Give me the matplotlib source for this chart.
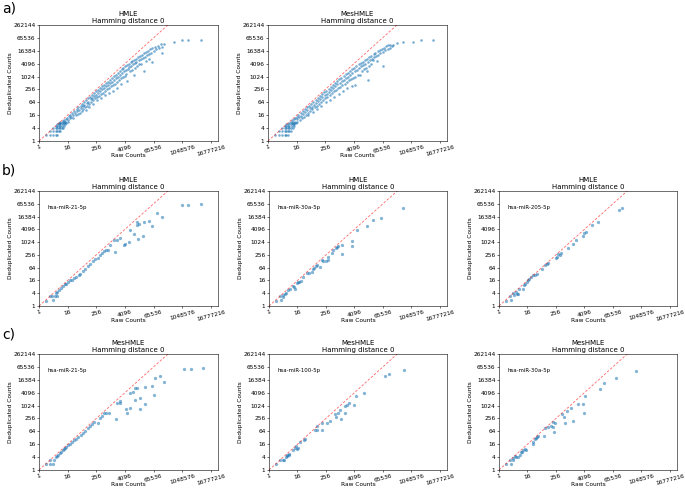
import numpy as np
import matplotlib
matplotlib.use("Agg")
import matplotlib.pyplot as plt
from matplotlib.ticker import NullLocator

# ---------------- data (log2 of raw counts, log2 of deduplicated counts) ----------------
a1_log2 = [
    (1.0,1.0),(1.58,1.0),(2.0,1.0),(2.32,1.0),(2.58,1.0),
    (1.58,1.58),(2.0,1.58),(2.32,1.58),(2.58,1.58),(2.81,1.58),(3.0,1.58),
    (2.0,2.0),(2.32,2.0),(2.58,2.0),(2.81,2.0),(3.0,2.0),(3.17,2.0),(3.32,2.0),
    (2.32,2.32),(2.58,2.32),(2.81,2.32),(3.0,2.32),(3.17,2.32),(3.46,2.32),
    (2.58,2.58),(2.81,2.58),(3.0,2.58),(3.32,2.58),(3.58,2.58),
    (2.81,2.81),(3.0,2.81),(3.17,2.81),(3.46,2.81),(3.81,2.81),
    (3.0,3.0),(3.32,3.0),(3.58,3.0),(3.7,3.0),(4.0,3.0),
    (3.3,3.17),(3.55,3.32),(3.75,3.46),(3.9,3.58),(4.1,3.3),(4.2,3.9),(4.35,4.1),(4.3,3.6),
    (4.5,3.8),(4.6,4.3),(4.7,4.0),(4.8,3.6),(4.95,4.7),(5.0,4.3),(5.1,4.0),(5.25,4.9),
    (5.3,4.6),(5.4,4.2),(5.5,5.2),(5.6,4.8),(5.7,4.4),(5.8,5.5),(5.85,5.1),(5.95,4.7),
    (6.05,5.8),(6.1,5.4),(6.2,5.0),(6.3,6.0),(6.35,5.6),(6.45,5.2),(6.5,4.8),(6.6,6.3),
    (6.65,5.9),(6.75,5.5),(6.85,6.6),(6.9,6.1),(7.0,5.7),(7.05,5.3),(7.15,6.9),(7.2,6.5),
    (7.3,6.1),(7.4,7.1),(7.45,6.7),(7.55,6.3),(7.6,5.8),(7.7,7.4),(7.75,7.0),(7.85,6.6),
    (7.95,7.7),(8.0,7.2),(8.1,6.8),(8.15,6.3),(8.25,7.9),(8.3,7.5),(8.4,7.0),(8.5,8.2),
    (8.55,7.7),(8.65,7.3),(8.7,6.7),(8.8,8.5),(8.85,8.0),(8.95,7.5),(9.05,8.7),(9.1,8.2),
    (9.2,7.8),(9.25,7.1),(9.35,9.0),(9.4,8.5),(9.5,8.0),(9.6,9.2),(9.65,8.7),(9.75,8.2),
    (9.8,7.4),(9.9,9.5),(9.95,9.0),(10.05,8.5),(10.15,9.8),(10.2,9.2),(10.3,8.7),(10.35,7.8),
    (10.45,10.1),(10.5,9.5),(10.6,8.9),(10.7,10.3),(10.75,9.8),(10.85,9.2),(10.9,8.3),
    (11.0,10.6),(11.05,10.0),(11.15,9.4),(11.25,10.8),(11.3,10.3),(11.4,9.7),(11.5,8.8),
    (11.55,11.1),(11.6,10.5),(11.7,9.9),(11.8,11.3),(11.85,10.8),(11.95,10.1),(12.05,11.6),
    (12.1,11.0),(12.2,10.4),(12.3,9.3),(12.35,11.8),(12.4,11.2),(12.55,12.0),(12.6,11.5),
    (12.7,10.8),(12.8,12.2),(12.85,11.7),(12.95,11.0),(13.05,12.4),(13.1,11.9),(13.2,10.3),
    (13.3,12.6),(13.35,12.1),(13.45,11.4),(13.55,12.8),(13.6,12.3),(13.7,11.7),(13.8,13.0),
    (13.9,12.5),(14.0,11.9),(14.1,13.2),(14.2,12.7),(14.3,12.0),(14.4,13.4),(14.5,12.9),
    (14.6,10.8),(14.7,13.6),(14.8,13.1),(14.9,12.4),(15.0,13.8),(15.1,13.3),(15.2,14.0),
    (15.3,13.5),(15.4,12.8),(15.5,14.2),(15.6,13.7),(15.8,12.3),(15.85,14.4),(16.0,13.9),
    (16.2,14.6),(16.4,14.2),(16.6,14.8),(16.8,14.4),(17.0,15.0),(17.2,14.6),(17.4,15.1),
    (17.2,13.6),(18.8,15.3),(20.0,15.6),(20.8,15.6),(22.6,15.7),
]

a2_log2 = [
    (1.0,1.0),(1.58,1.0),(2.0,1.0),(2.32,1.0),(2.58,1.0),(2.81,1.0),
    (1.58,1.58),(2.0,1.58),(2.32,1.58),(2.58,1.58),(2.81,1.58),(3.0,1.58),(3.17,1.58),
    (2.0,2.0),(2.32,2.0),(2.58,2.0),(2.81,2.0),(3.0,2.0),(3.17,2.0),(3.46,2.0),
    (2.32,2.32),(2.58,2.32),(2.81,2.32),(3.0,2.32),(3.32,2.32),(3.58,2.32),
    (2.58,2.58),(2.81,2.58),(3.17,2.58),(3.46,2.58),(3.7,2.58),
    (3.0,2.81),(3.32,2.81),(3.58,2.81),(3.9,2.81),
    (3.17,3.0),(3.46,3.0),(3.81,3.0),(4.1,3.0),
    (3.4,3.25),(3.6,3.4),(3.8,3.55),(4.0,3.8),(4.05,3.35),(4.25,4.0),(4.3,3.7),(4.4,3.3),
    (4.55,4.3),(4.6,3.95),(4.75,3.6),(4.85,4.6),(4.9,4.2),(5.0,3.8),(5.15,4.9),(5.2,4.5),
    (5.3,4.1),(5.45,5.2),(5.5,4.8),(5.6,4.4),(5.65,4.0),(5.75,5.5),(5.8,5.1),(5.9,4.7),
    (6.05,5.8),(6.1,5.3),(6.2,4.9),(6.25,4.5),(6.35,6.1),(6.4,5.6),(6.5,5.2),(6.65,6.4),
    (6.7,5.9),(6.8,5.4),(6.85,5.0),(6.95,6.7),(7.0,6.2),(7.1,5.7),(7.25,6.95),(7.3,6.5),
    (7.4,6.0),(7.45,5.5),(7.55,7.25),(7.6,6.8),(7.7,6.3),(7.85,7.55),(7.9,7.1),(8.0,6.6),
    (8.05,6.0),(8.15,7.8),(8.2,7.3),(8.3,6.9),(8.45,8.1),(8.5,7.6),(8.6,7.1),(8.65,6.4),
    (8.75,8.4),(8.8,7.9),(8.9,7.4),(9.05,8.7),(9.1,8.2),(9.2,7.7),(9.25,6.9),(9.35,9.0),
    (9.4,8.5),(9.5,7.9),(9.65,9.3),(9.7,8.8),(9.8,8.2),(9.85,7.3),(9.95,9.55),(10.0,9.0),
    (10.1,8.4),(10.25,9.8),(10.3,9.3),(10.4,8.7),(10.45,7.7),(10.55,10.1),(10.6,9.5),
    (10.7,8.9),(10.85,10.35),(10.9,9.8),(11.0,9.1),(11.05,8.2),(11.15,10.6),(11.2,10.0),
    (11.3,9.4),(11.45,10.9),(11.5,10.3),(11.6,9.6),(11.7,8.6),(11.75,11.1),(11.8,10.5),
    (11.9,9.8),(12.05,11.4),(12.1,10.8),(12.15,8.74),(12.2,10.0),(12.35,11.6),(12.4,11.0),
    (12.5,10.2),(12.65,11.9),(12.7,11.3),(12.85,10.3),(12.95,12.1),(13.0,11.6),(13.1,10.8),
    (13.25,12.3),(13.3,11.8),(13.4,11.1),(13.55,12.6),(13.6,12.0),(13.7,11.3),(13.8,10.8),
    (13.85,12.8),(13.9,12.3),(14.0,9.5),(14.05,11.6),(14.15,13.0),(14.2,12.5),(14.35,11.9),
    (14.45,13.2),(14.5,12.8),(14.7,12.6),(14.75,13.5),(14.8,13.0),(15.0,13.7),(15.1,13.2),
    (15.2,12.4),(15.3,13.9),(15.4,13.4),(15.6,14.1),(15.7,13.6),(15.9,14.3),(16.0,11.6),
    (16.05,13.8),(16.2,14.5),(16.4,14.1),(16.5,14.7),(16.7,14.3),(16.8,14.9),(17.0,14.5),
    (17.1,14.9),(17.3,14.7),(17.5,14.9),(18.0,15.2),(18.9,15.3),(20.3,15.4),(21.3,15.6),
    (23.1,15.7),
]

b1_log2 = [
    (0.98,0.83),(1.54,1.51),(1.87,1.51),(2.25,1.51),(2.57,1.51),(2.01,0.89),(2.39,2.03),
    (2.57,2.19),(2.85,2.56),(3.04,2.82),(3.32,3.08),(3.65,3.39),(3.79,3.50),(4.12,3.76),
    (4.35,4.02),(4.58,4.12),(4.91,4.43),(5.19,4.54),(5.52,4.90),(5.75,5.06),(6.13,5.43),
    (6.46,5.84),(6.78,6.21),(7.16,6.62),(7.53,6.99),(7.86,7.30),(8.19,7.56),(8.47,8.03),
    (8.80,8.29),(9.03,8.56),(9.40,8.82),(9.59,8.82),(9.96,9.60),(10.53,10.28),(10.90,10.38),
    (11.27,10.69),(10.57,8.45),(11.93,9.49),(11.98,9.75),(12.54,10.02),(12.68,11.95),
    (13.71,12.62),(13.71,13.15),(13.94,12.88),(14.64,13.15),(14.55,10.90),(13.80,10.54),
    (13.24,11.32),(15.35,13.25),(15.81,12.52),(16.42,14.55),(17.22,13.93),(20.02,15.86),
    (20.87,15.86),(22.60,16.02),
]

b2_log2 = [
    (0.98,0.83),(1.54,1.51),(1.64,0.89),(1.92,1.72),(2.01,1.41),(2.25,1.93),(2.39,2.03),
    (2.71,2.45),(2.95,2.71),(3.32,3.08),(3.51,2.97),(3.65,2.71),(3.88,3.60),(4.02,3.70),
    (4.26,3.76),(4.44,3.86),(4.73,4.54),(5.38,5.16),(5.66,5.22),(5.99,5.27),(6.13,5.84),
    (6.32,5.89),(6.60,6.21),(6.78,6.36),(7.16,6.10),(7.39,7.15),(7.63,7.04),(7.95,6.99),
    (8.33,7.67),(8.33,7.25),(8.80,8.29),(9.03,8.82),(9.40,9.13),(9.59,9.23),(9.73,9.34),
    (10.20,9.49),(10.20,8.19),(11.60,10.12),(11.60,9.34),(12.40,11.84),(13.71,12.47),
    (14.64,13.41),(15.67,13.82),(18.76,15.39),
]

b3_log2 = [
    (0.98,0.83),(1.54,1.51),(1.64,0.89),(2.01,2.03),(2.10,1.67),(2.38,2.19),(2.48,1.93),
    (2.71,1.93),(2.85,2.71),(3.32,2.71),(3.50,3.34),(3.64,3.50),(3.88,3.76),(4.11,4.02),
    (4.25,4.28),(4.44,4.54),(4.81,4.80),(5.05,4.80),(5.28,5.06),(5.98,5.84),(6.45,6.36),
    (6.78,6.62),(6.92,6.73),(7.99,7.51),(8.18,7.67),(8.32,8.19),(8.55,8.03),(8.64,8.29),
    (9.72,9.13),(10.33,9.65),(10.79,10.38),(11.73,10.90),(11.92,11.42),(12.20,11.53),
    (13.13,12.73),(13.93,13.15),(16.87,15.08),(17.34,15.39),
]

c1_log2 = [
    (0.98,0.98),(1.54,1.59),(1.54,0.98),(2.01,0.98),(2.10,1.59),(2.38,2.01),(2.57,2.21),
    (2.71,2.37),(2.94,2.62),(3.08,2.78),(3.32,3.03),(3.50,3.24),(3.64,3.40),(3.79,3.55),
    (4.11,3.91),(4.35,4.06),(4.58,4.27),(4.91,4.58),(5.19,4.78),(5.51,5.09),(5.84,5.45),
    (6.12,5.71),(6.45,6.07),(6.78,6.48),(7.06,6.84),(7.38,7.15),(7.71,7.51),(8.18,7.25),
    (8.46,8.02),(8.79,8.38),(9.11,8.80),(9.39,8.90),(9.72,8.80),(10.79,7.92),(10.89,10.44),
    (11.26,10.70),(11.36,10.44),(12.20,9.41),(12.29,8.80),(12.66,9.57),(12.66,11.88),
    (13.13,12.13),(13.46,12.65),(13.69,12.65),(13.46,10.85),(14.07,9.41),(14.16,11.11),
    (14.86,10.23),(14.86,12.81),(15.79,13.01),(16.12,11.62),(16.26,14.20),(16.87,14.56),
    (17.43,13.68),(20.23,15.64),(21.26,15.64),(22.94,15.79),
]

c2_log2 = [
    (0.98,0.98),(1.54,1.54),(1.92,1.54),(2.10,1.59),(2.38,2.01),(2.48,2.21),(2.57,2.37),
    (2.76,2.52),(2.85,2.37),(3.41,3.14),(3.64,3.40),(3.79,3.65),(3.88,3.24),(4.11,3.34),
    (4.35,4.27),(4.91,4.58),(5.05,4.78),(6.45,6.22),(6.78,6.22),(6.78,6.84),(7.38,6.22),
    (7.38,7.25),(8.08,7.36),(8.55,7.66),(9.25,8.69),(9.39,8.28),(9.72,8.80),(9.95,9.31),
    (10.05,7.87),(10.65,8.90),(10.65,9.93),(10.89,10.08),(11.26,10.44),(11.92,10.08),
    (12.20,11.47),(13.32,11.99),(16.26,14.56),(16.87,14.87),(18.93,15.48),
]

c3_log2 = [
    (0.98,0.98),(1.54,1.59),(1.64,0.98),(1.92,1.59),(2.01,1.85),(2.24,2.11),(2.38,2.01),
    (2.71,2.01),(2.94,2.37),(3.04,2.73),(3.18,2.83),(3.32,3.14),(3.64,3.24),(3.79,3.14),
    (4.72,4.27),(4.81,4.06),(5.05,4.78),(5.19,4.94),(5.37,5.09),(5.51,5.20),(6.31,5.30),
    (6.45,6.48),(6.92,6.64),(7.24,6.84),(7.52,6.64),(7.71,5.97),(7.62,7.51),(7.85,7.25),
    (8.79,8.69),(9.11,8.18),(9.25,7.25),(9.58,9.21),(10.05,9.57),(10.33,7.61),(11.12,10.18),
    (11.82,10.18),(11.92,8.90),(12.06,11.47),(14.16,12.55),(14.72,13.53),(16.50,14.20),
    (19.21,15.38),
]

x_ticks = [1, 16, 256, 4096, 65536, 1048576, 16777216]
y_ticks = [1, 4, 16, 64, 256, 1024, 4096, 16384, 65536, 262144]

titles = {
    "a1": "HMLE", "a2": "MesHMLE",
    "b1": "HMLE", "b2": "HMLE", "b3": "HMLE",
    "c1": "MesHMLE", "c2": "MesHMLE", "c3": "MesHMLE",
}
mirnas = {
    "b1": "hsa-miR-21-5p", "b2": "hsa-miR-30a-5p", "b3": "hsa-miR-205-5p",
    "c1": "hsa-miR-21-5p", "c2": "hsa-miR-100-5p", "c3": "hsa-miR-30a-5p",
}
datasets = {
    "a1": a1_log2, "a2": a2_log2,
    "b1": b1_log2, "b2": b2_log2, "b3": b3_log2,
    "c1": c1_log2, "c2": c2_log2, "c3": c3_log2,
}

# ---------------- layout ----------------
W, H = 685, 490
fig = plt.figure(figsize=(W / 100, H / 100), dpi=100)

def rect(l, t, r, b):
    return [l / W, 1 - b / H, (r - l) / W, (b - t) / H]

positions = {
    "a1": rect(39, 25, 218, 141), "a2": rect(268, 25, 447, 141),
    "b1": rect(39, 191, 218, 306), "b2": rect(269, 191, 447, 306), "b3": rect(499, 191, 677, 306),
    "c1": rect(39, 354, 218, 470), "c2": rect(269, 354, 447, 470), "c3": rect(499, 354, 677, 470),
}

FS = 4.2
for key, pos in positions.items():
    ax = fig.add_axes(pos)
    pts = np.array(datasets[key])
    xs = np.power(2.0, pts[:, 0])
    ys = np.power(2.0, pts[:, 1])
    if key.startswith("a"):
        ax.scatter(xs, ys, s=3.4, color="#1f77b4", alpha=0.6, linewidths=0)
    else:
        ax.scatter(xs, ys, s=5.5, color="#1f77b4", alpha=0.55, linewidths=0)
    ax.plot([1, 2 ** 25], [1, 2 ** 25], linestyle="--", color="red", alpha=0.6,
            linewidth=0.6, dashes=(3, 2))
    ax.set_xscale("log", base=2)
    ax.set_yscale("log", base=2)
    ax.set_xlim(1, 2 ** 25)
    ax.set_ylim(1, 2 ** 18)
    ax.set_xticks(x_ticks)
    ax.set_xticklabels([str(v) for v in x_ticks], rotation=15, fontsize=FS)
    ax.set_yticks(y_ticks)
    ax.set_yticklabels([str(v) for v in y_ticks], fontsize=FS)
    ax.xaxis.set_minor_locator(NullLocator())
    ax.yaxis.set_minor_locator(NullLocator())
    ax.tick_params(length=1.5, width=0.4, pad=1)
    for sp in ax.spines.values():
        sp.set_linewidth(0.4)
    ax.set_xlabel("Raw Counts", fontsize=FS, labelpad=-2.5)
    ax.set_ylabel("Deduplicated Counts", fontsize=FS, labelpad=0.4)
    ax.set_title(titles[key] + "\nHamming distance 0", fontsize=5.0, pad=1.5,
                 linespacing=1.1)
    if key in mirnas:
        ax.text(0.045, 0.86, mirnas[key], transform=ax.transAxes, fontsize=3.9,
                ha="left", va="center")

fig.text(2 / W, 1 - 9 / H, "a)", fontsize=10, ha="left", va="center")
fig.text(2 / W, 1 - 171 / H, "b)", fontsize=10, ha="left", va="center")
fig.text(2 / W, 1 - 334 / H, "c)", fontsize=10, ha="left", va="center")

fig.savefig("out.png", dpi=100)
